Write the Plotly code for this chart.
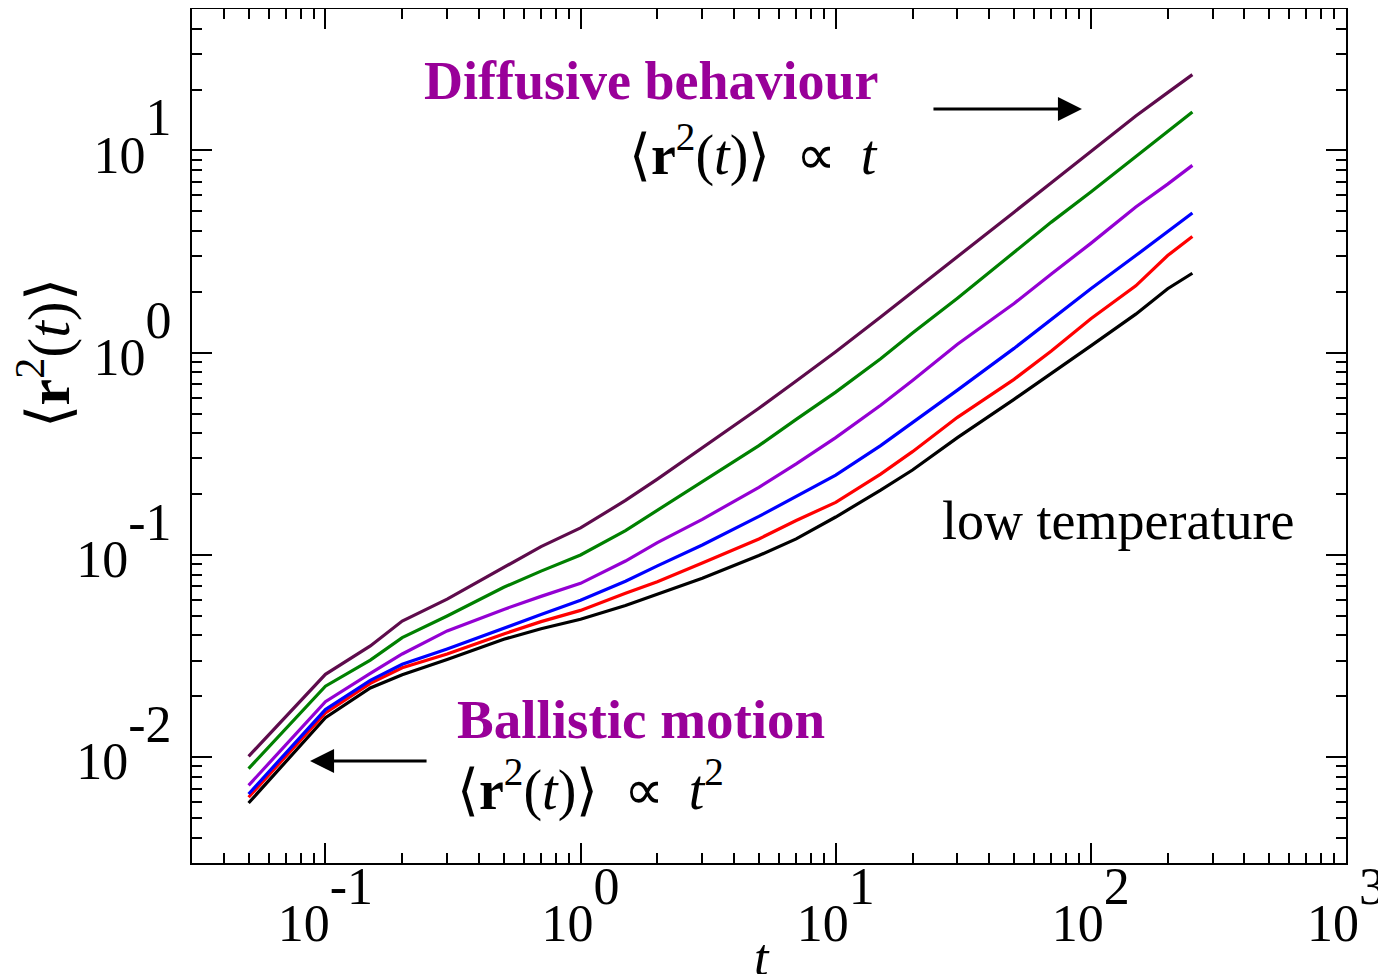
import plotly.graph_objects as go

# time values
t = [0.05, 0.1, 0.15, 0.2, 0.3, 0.5, 0.7, 1, 1.5, 2, 3, 5, 7, 10, 15, 20, 30, 50, 70, 100, 150, 200, 250]

# mean square displacement for each temperature (highest -> lowest)
msd_maroon = [0.0101, 0.0257, 0.0355, 0.0471, 0.0605, 0.0873, 0.110, 0.136, 0.186, 0.237, 0.339, 0.531, 0.724, 1.01, 1.50, 2.00, 2.99, 4.95, 6.92, 9.89, 14.8, 19.3, 23.7]
msd_green = [0.00879, 0.02245, 0.0302, 0.039, 0.0499, 0.0692, 0.0832, 0.100, 0.132, 0.166, 0.229, 0.347, 0.468, 0.638, 0.933, 1.25, 1.86, 3.14, 4.42, 6.22, 9.33, 12.4, 15.5]
msd_purple = [0.00726, 0.0188, 0.026, 0.0324, 0.0421, 0.0538, 0.0624, 0.0724, 0.0933, 0.115, 0.150, 0.216, 0.282, 0.380, 0.550, 0.728, 1.10, 1.75, 2.45, 3.47, 5.25, 6.81, 8.43]
msd_blue = [0.00658, 0.0172, 0.024, 0.0288, 0.0343, 0.0432, 0.0507, 0.0597, 0.0741, 0.0883, 0.112, 0.155, 0.195, 0.248, 0.347, 0.450, 0.653, 1.05, 1.46, 2.07, 3.02, 3.97, 4.90]
msd_red = [0.00634, 0.01656, 0.0232, 0.0277, 0.0324, 0.0407, 0.0468, 0.0532, 0.0646, 0.0738, 0.0912, 0.120, 0.148, 0.182, 0.251, 0.324, 0.479, 0.738, 1.02, 1.47, 2.14, 3.02, 3.75]
msd_black = [0.00594, 0.01567, 0.022, 0.0256, 0.0304, 0.0383, 0.0432, 0.0481, 0.0562, 0.0638, 0.0767, 0.0993, 0.120, 0.154, 0.209, 0.263, 0.380, 0.588, 0.794, 1.08, 1.55, 2.07, 2.47]

series = [
    (msd_black, "black"),
    (msd_red, "#ff0000"),
    (msd_blue, "#0000ff"),
    (msd_purple, "#9400d3"),
    (msd_green, "#008000"),
    (msd_maroon, "#5e0b4c"),
]

x_tickvals = [0.1, 1, 10, 100, 1000]
x_exponents = ["-1", "0", "1", "2", "3"]
y_tickvals = [0.01, 0.1, 1, 10]
y_exponents = ["-2", "-1", "0", "1"]

FS = 52
SERIF = "Liberation Serif, Times New Roman, serif"


def pow_label(e):
    return ("10<sup><sup><span style='font-size:%dpx'>%s</span></sup></sup>" % (FS, e))


fig = go.Figure()
for vals, col in series:
    fig.add_trace(go.Scatter(x=t, y=vals, mode="lines",
                             line=dict(color=col, width=3.2), showlegend=False))

axis_common = dict(
    type="log",
    showgrid=False,
    zeroline=False,
    showline=True,
    linecolor="black",
    linewidth=2,
    mirror="ticks",
    ticks="inside",
    ticklen=20,
    tickwidth=2,
    tickcolor="black",
    automargin=False,
    tickfont=dict(family=SERIF, size=FS, color="black"),
    minor=dict(ticks="inside", ticklen=10, tickwidth=2, tickcolor="black", dtick="D1", showgrid=False),
)

fig.update_xaxes(
    **axis_common,
    range=[-1.5229, 3.0],
    tickmode="array",
    tickvals=x_tickvals,
    ticktext=[pow_label(e) for e in x_exponents],
    ticklabelstandoff=14,
)
fig.update_yaxes(
    **axis_common,
    range=[-2.5229, 1.699],
    tickmode="array",
    tickvals=y_tickvals,
    ticktext=[pow_label(e) for e in y_exponents],
    ticklabelstandoff=8,
    ticklabelshift=4,
)

MAG = "#990099"
MATH_FS = 56
ann = [
    dict(text="⟨<b>r</b><sup>2</sup>(<i>t</i>)⟩", x=-0.128, y=0.597, xanchor="center", yanchor="middle",
         textangle=-90, font=dict(family=SERIF, size=60, color="black")),
    dict(text="<i>t</i>", x=0.494, y=-0.075, xanchor="center", yanchor="top",
         font=dict(family=SERIF, size=FS, color="black")),
    dict(text="<b>Diffusive behaviour</b>", x=0.3986, y=0.9157, xanchor="center", yanchor="middle",
         font=dict(family=SERIF, size=54, color=MAG)),
    dict(text="⟨<b>r</b><sup>2</sup>(<i>t</i>)⟩\u2009 ∝ \u2009<i>t</i>", x=0.5962, y=0.8337, xanchor="right", yanchor="middle",
         font=dict(family=SERIF, size=MATH_FS, color="black")),
    dict(text="low temperature", x=0.6482, y=0.4005, xanchor="left", yanchor="middle",
         font=dict(family=SERIF, size=54, color="black")),
    dict(text="<b>Ballistic motion</b>", x=0.2279, y=0.1686, xanchor="left", yanchor="middle",
         font=dict(family=SERIF, size=55, color=MAG)),
    dict(text="⟨<b>r</b><sup>2</sup>(<i>t</i>)⟩\u2009 ∝ \u2009<i>t</i><sup>2</sup>", x=0.2279, y=0.0902, xanchor="left", yanchor="middle",
         font=dict(family=SERIF, size=MATH_FS, color="black")),
]
for a in ann:
    fig.add_annotation(xref="paper", yref="paper", showarrow=False, **a)

# arrows
fig.add_annotation(xref="paper", yref="paper", x=0.7712, y=0.8829, ax=-150, ay=0, text="",
                   showarrow=True, arrowhead=2, arrowsize=1.6, arrowwidth=3, arrowcolor="black")
fig.add_annotation(xref="paper", yref="paper", x=0.1023, y=0.1194, ax=118, ay=0, text="",
                   showarrow=True, arrowhead=2, arrowsize=1.6, arrowwidth=3, arrowcolor="black")

# page body has an 8 px default margin, so the figure is 8 px smaller and shifted accordingly
fig.update_layout(
    width=1378, height=966,
    margin=dict(l=184, r=40, t=1, b=111),
    paper_bgcolor="white",
    plot_bgcolor="white",
    font=dict(family=SERIF, color="black"),
)

fig.write_html("out.html")
